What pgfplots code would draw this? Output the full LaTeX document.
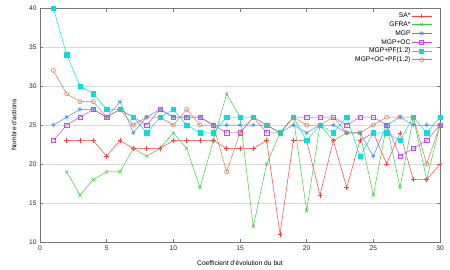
\documentclass[border=0pt]{standalone}
\usepackage{fontspec}
\setmainfont{Liberation Sans}
\usepackage{pgfplots}
\pgfplotsset{compat=1.18}
\definecolor{cSA}{HTML}{FF4040}
\definecolor{cGF}{HTML}{3CCB3C}
\definecolor{cMGP}{HTML}{3A90FF}
\definecolor{cOC}{HTML}{C24AF2}
\definecolor{cPF}{HTML}{00E0E0}
\definecolor{cOP}{HTML}{D47A50}
\definecolor{frame}{HTML}{777777}
\begin{document}
\begin{tikzpicture}
\useasboundingbox (-40bp,-28bp) rectangle (410bp,242bp);
\begin{axis}[
  at={(0,0)}, anchor=south west,
  scale only axis, width=400bp, height=234bp,
  xmin=0, xmax=30, ymin=10, ymax=40,
  xtick={0,5,...,30}, ytick={10,15,...,40},
  minor tick num=0,
  tick align=inside,
  major tick length=3.5bp,
  axis line style={draw=frame, line width=0.9bp},
  every tick/.style={frame, line width=0.8bp},
  ymajorgrids, grid style={gray!30, line width=0.9bp},
  /pgf/number format/assume math mode=true,
  ticklabel style={font=\fontsize{6.7}{8}\selectfont, text=black!85},
  label style={font=\fontsize{6.7}{8}\selectfont},
  xlabel={Coefficient d'évolution du but},
  ylabel={Nombre d'actions},
  xlabel style={at={(axis description cs:0.5,-0.0885)}, anchor=center},
  ylabel style={at={(axis description cs:-0.065,0.5)}, anchor=center},
  clip=false,
  legend style={draw=none, fill=none, at={(axis description cs:0.98,0.986)}, anchor=north east,
    font=\fontsize{6.7}{8}\selectfont, row sep=0pt, inner sep=0pt,
    nodes={inner sep=1pt, text height=5.3pt, text depth=1.5pt}, cells={anchor=east}},
  legend plot pos=right,
  legend image code/.code={\draw[mark repeat=2,mark phase=2] plot coordinates {(0cm,0cm) (0.35cm,0cm) (0.7cm,0cm)};},
  every axis plot/.append style={line width=0.5bp, mark options={solid}},
]
\addplot[color=cSA, mark=+, mark size=2.3bp] coordinates {
(2,23)(3,23)(4,23)(5,21)(6,23)(7,22)(8,22)(9,22)(10,23)(11,23)(12,23)(13,23)(14,22)(15,22)(16,22)
(17,23)(18,11)(19,23)(20,23)(21,16)(22,23)(23,17)(24,23)(25,24)(26,20)(27,24)(28,18)(29,18)(30,20)};
\addlegendentry{SA*}
\addplot[color=cGF, mark=x, mark size=2.3bp] coordinates {
(2,19)(3,16)(4,18)(5,19)(6,19)(7,22)(8,21)(9,22)(10,24)(11,22)(12,17)(13,23)(14,29)(15,26)(16,12)
(17,20)(18,24)(19,26)(20,14)(21,25)(22,23)(23,24)(24,24)(25,16)(26,25)(27,17)(28,26)(29,18)(30,25)};
\addlegendentry{GFRA*}
\addplot[color=cMGP, mark=asterisk, mark size=2.3bp] coordinates {
(1,25)(2,26)(3,27)(4,27)(5,26)(6,28)(7,24)(8,26)(9,27)(10,26)(11,26)(12,26)(13,25)(14,25)(15,25)
(16,25)(17,25)(18,24)(19,25)(20,24)(21,25)(22,25)(23,24)(24,24)(25,21)(26,25)(27,26)(28,25)(29,25)(30,25)};
\addlegendentry{MGP}
\addplot[color=cOC, mark=square, mark size=2.1bp] coordinates {
(1,23)(2,25)(3,26)(4,27)(5,26)(6,27)(7,26)(8,25)(9,27)(10,26)(11,26)(12,26)(13,25)(14,24)(15,24)
(16,26)(17,24)(18,24)(19,26)(20,26)(21,26)(22,26)(23,25)(24,26)(25,26)(26,25)(27,21)(28,22)(29,23)(30,25)};
\addlegendentry{MGP+OC}
\addplot[color=cPF, mark=square*, mark size=2.1bp, mark options={fill=cPF}] coordinates {
(1,40)(2,34)(3,30)(4,29)(5,27)(6,27)(7,26)(8,24)(9,26)(10,27)(11,25)(12,24)(13,24)(14,26)(15,26)
(16,26)(17,25)(18,24)(19,26)(20,23)(21,25)(22,24)(23,26)(24,21)(25,24)(26,24)(27,23)(28,26)(29,24)(30,26)};
\addlegendentry{MGP+PF(1.2)}
\addplot[color=cOP, mark=o, mark size=2.1bp] coordinates {
(1,32)(2,29)(3,28)(4,28)(5,26)(6,27)(7,25)(8,26)(9,26)(10,25)(11,27)(12,25)(13,25)(14,19)(15,24)
(16,26)(17,25)(18,24)(19,26)(20,25)(21,25)(22,26)(23,24)(24,24)(25,25)(26,26)(27,26)(28,26)(29,20)(30,25)};
\addlegendentry{MGP+OC+PF(1.2)}
\end{axis}
\end{tikzpicture}
\end{document}
